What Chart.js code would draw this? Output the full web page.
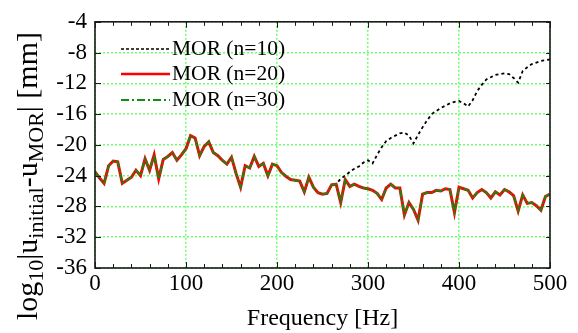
<!DOCTYPE html>
<html>
<head>
<meta charset="utf-8">
<script src="https://cdn.jsdelivr.net/npm/chart.js@4/dist/chart.umd.min.js"></script>
<style>
html,body{margin:0;padding:0;background:#fff;}
#c{display:block;}
</style>
</head>
<body>
<canvas id="c" width="578" height="333"></canvas>
<script>
// Frequency axis [Hz]
const freq = [0,5,10,15,20,25,30,35,40,45,50,55,60,65,70,75,80,85,90,95,
  100,105,110,115,120,125,130,135,140,145,150,155,160,165,170,175,180,185,190,195,
  200,205,210,215,220,225,230,235,240,245,250,255,260,265,270,275,280,285,290,295,
  300,305,310,315,320,325,330,335,340,345,350,355,360,365,370,375,380,385,390,395,
  400,405,410,415,420,425,430,435,440,445,450,455,460,465,470,475,480,485,490,495,500];

// MOR (n=20)
const morN20 = [-23.5,-24.3,-25.0,-22.7,-22.1,-22.2,-25.0,-24.6,-24.2,-23.3,
  -24.0,-21.8,-23.3,-21.3,-24.4,-21.9,-21.5,-21.0,-22.0,-21.3,
  -20.5,-18.8,-19.1,-21.4,-20.2,-19.6,-21.0,-21.4,-22.0,-22.5,
  -21.6,-23.7,-25.5,-22.7,-23.0,-21.5,-22.8,-22.4,-24.0,-22.5,
  -22.7,-23.6,-24.1,-24.5,-24.6,-24.7,-26.1,-24.2,-25.5,-26.2,
  -26.4,-26.3,-25.2,-25.1,-27.5,-24.5,-25.4,-25.1,-25.4,-25.6,
  -25.7,-25.9,-26.3,-27.1,-25.6,-25.1,-25.6,-25.6,-29.1,-27.5,
  -28.4,-29.8,-26.4,-26.2,-26.2,-25.9,-26.0,-25.7,-25.8,-28.8,
  -25.5,-25.7,-25.9,-26.9,-26.2,-25.8,-26.2,-26.9,-26.1,-26.5,
  -25.8,-26.1,-26.6,-28.6,-26.5,-27.6,-27.5,-27.9,-28.5,-26.7,-26.4];

// MOR (n=30) – coincides with n=20
const morN30 = [-23.5,-24.3,-25.0,-22.7,-22.1,-22.2,-25.0,-24.6,-24.2,-23.3,
  -24.0,-21.8,-23.3,-21.3,-24.4,-21.9,-21.5,-21.0,-22.0,-21.3,
  -20.5,-18.8,-19.1,-21.4,-20.2,-19.6,-21.0,-21.4,-22.0,-22.5,
  -21.6,-23.7,-25.5,-22.7,-23.0,-21.5,-22.8,-22.4,-24.0,-22.5,
  -22.7,-23.6,-24.1,-24.5,-24.6,-24.7,-26.1,-24.2,-25.5,-26.2,
  -26.4,-26.3,-25.2,-25.1,-27.5,-24.5,-25.4,-25.1,-25.4,-25.6,
  -25.7,-25.9,-26.3,-27.1,-25.6,-25.1,-25.6,-25.6,-29.1,-27.5,
  -28.4,-29.8,-26.4,-26.2,-26.2,-25.9,-26.0,-25.7,-25.8,-28.8,
  -25.5,-25.7,-25.9,-26.9,-26.2,-25.8,-26.2,-26.9,-26.1,-26.5,
  -25.8,-26.1,-26.6,-28.6,-26.5,-27.6,-27.5,-27.9,-28.5,-26.7,-26.4];

// MOR (n=10) – follows the others until ~265 Hz, then rises
const morN10 = [-23.5,-24.3,-25.0,-22.7,-22.1,-22.2,-25.0,-24.6,-24.2,-23.3,
  -24.0,-21.8,-23.3,-21.3,-24.4,-21.9,-21.5,-21.0,-22.0,-21.3,
  -20.5,-18.8,-19.1,-21.4,-20.2,-19.6,-21.0,-21.4,-22.0,-22.5,
  -21.6,-23.7,-25.5,-22.7,-23.0,-21.5,-22.8,-22.4,-24.0,-22.5,
  -22.7,-23.6,-24.1,-24.5,-24.6,-24.7,-26.1,-24.2,-25.5,-26.2,
  -26.4,-26.3,-25.2,-25.1,-24.4,-24.0,-23.5,-23.1,-22.8,-22.3,
  -22.0,-22.4,-21.3,-20.3,-19.5,-19.1,-18.8,-18.5,-18.4,-18.8,
  -19.8,-18.7,-17.7,-16.8,-16.0,-15.6,-15.2,-14.9,-14.6,-14.4,
  -14.3,-14.6,-15.0,-14.2,-13.0,-12.2,-11.5,-11.2,-10.9,-10.8,
  -10.7,-10.8,-11.3,-11.9,-10.4,-9.9,-9.5,-9.3,-9.1,-9.0,-8.9];

const xTicks = [0,100,200,300,400,500];
const yTicks = [-36,-32,-28,-24,-20,-16,-12,-8,-4];
const seriesLabels = ['MOR (n=10)','MOR (n=20)','MOR (n=30)'];

const FONT = '"Liberation Serif","Times New Roman",serif';
const toXY = arr => freq.map((f,i)=>({x:f,y:arr[i]}));

const decorPlugin = {
  id:'decor',
  afterDatasetsDraw(chart){
    const ctx = chart.ctx, a = chart.chartArea;
    const xs = chart.scales.x, ys = chart.scales.y;
    ctx.save();
    // frame
    ctx.strokeStyle = '#1a1a1a';
    ctx.lineWidth = 1.6;
    ctx.setLineDash([]);
    ctx.strokeRect(a.left, a.top, a.right-a.left, a.bottom-a.top);
    // x ticks (minor every 20, major every 100) on bottom and top
    ctx.lineWidth = 1;
    for (let f=0; f<=500; f+=20){
      const px = Math.round(xs.getPixelForValue(f))+0.5;
      const len = (f%100===0)?6:4;
      ctx.beginPath();
      ctx.moveTo(px,a.bottom); ctx.lineTo(px,a.bottom-len);
      ctx.moveTo(px,a.top); ctx.lineTo(px,a.top+len);
      ctx.stroke();
    }
    yTicks.forEach(v=>{
      const py = Math.round(ys.getPixelForValue(v))+0.5;
      ctx.beginPath();
      ctx.moveTo(a.left,py); ctx.lineTo(a.left+6,py);
      ctx.moveTo(a.right,py); ctx.lineTo(a.right-4,py);
      ctx.stroke();
    });
    // legend
    const lx0 = 121, lx1 = 170, tx = 172;
    const rows = [
      {y:49, color:'#000000', w:1.6, dash:[3,2]},
      {y:74, color:'#ff0000', w:2.5, dash:[]},
      {y:100, color:'#138a13', w:1.8, dash:[8,3,2,3]}
    ];
    rows.forEach((r,i)=>{
      ctx.strokeStyle = r.color; ctx.lineWidth = r.w; ctx.setLineDash(r.dash);
      ctx.beginPath(); ctx.moveTo(lx0,r.y); ctx.lineTo(lx1,r.y); ctx.stroke();
      ctx.setLineDash([]);
      ctx.fillStyle = '#000';
      ctx.font = '21.5px '+FONT;
      ctx.textBaseline = 'middle';
      ctx.textAlign = 'left';
      ctx.fillText(seriesLabels[i], tx, r.y);
    });
    // y-axis title with subscripts
    const parts = [['log',30,0],['10',22,6],['|u',30,0],['initial',22,6],['-u',30,0],['MOR',22,6],['| [mm]',30,0]];
    ctx.translate(37,176);
    ctx.rotate(-Math.PI/2);
    ctx.textBaseline = 'alphabetic';
    let total = 0;
    parts.forEach(p=>{ctx.font = p[1]+'px '+FONT; total += ctx.measureText(p[0]).width;});
    let x = -total/2;
    parts.forEach(p=>{
      ctx.font = p[1]+'px '+FONT;
      ctx.fillText(p[0], x, p[2]);
      x += ctx.measureText(p[0]).width;
    });
    ctx.restore();
  }
};

new Chart(document.getElementById('c'), {
  type:'line',
  data:{
    datasets:[
      {label:seriesLabels[0], data:toXY(morN10), borderColor:'#000000', borderWidth:1.8, borderDash:[3,3], pointRadius:0, fill:false, tension:0, order:3},
      {label:seriesLabels[1], data:toXY(morN20), borderColor:'#ff0000', borderWidth:3, pointRadius:0, fill:false, tension:0, order:2},
      {label:seriesLabels[2], data:toXY(morN30), borderColor:'#138a13', borderWidth:1.8, borderDash:[8,2,2,2], pointRadius:0, fill:false, tension:0, order:1}
    ]
  },
  options:{
    responsive:false,
    animation:false,
    devicePixelRatio:1,
    layout:{padding:{top:18,right:28,left:0,bottom:0}},
    plugins:{legend:{display:false}, tooltip:{enabled:false}},
    scales:{
      x:{
        type:'linear', min:0, max:500,
        afterBuildTicks(s){ s.ticks = xTicks.map(v=>({value:v})); },
        afterFit(s){ s.height = 65; },
        ticks:{color:'#000', font:{family:FONT, size:23}, padding:2, maxRotation:0},
        grid:{color:'rgb(110,255,110)', lineWidth:1.5, drawTicks:false},
        border:{display:false, dash:[2,2]},
        title:{display:true, text:'Frequency [Hz]', color:'#000', font:{family:FONT, size:24}, padding:{top:0,bottom:0}}
      },
      y:{
        type:'linear', min:-36, max:-4,
        afterBuildTicks(s){ s.ticks = yTicks.map(v=>({value:v})); },
        afterFit(s){ s.width = 95; },
        ticks:{color:'#000', font:{family:FONT, size:23}, padding:8},
        grid:{color:'rgb(110,255,110)', lineWidth:1.5, drawTicks:false},
        border:{display:false, dash:[2,2]}
      }
    }
  },
  plugins:[decorPlugin]
});
</script>
</body>
</html>
